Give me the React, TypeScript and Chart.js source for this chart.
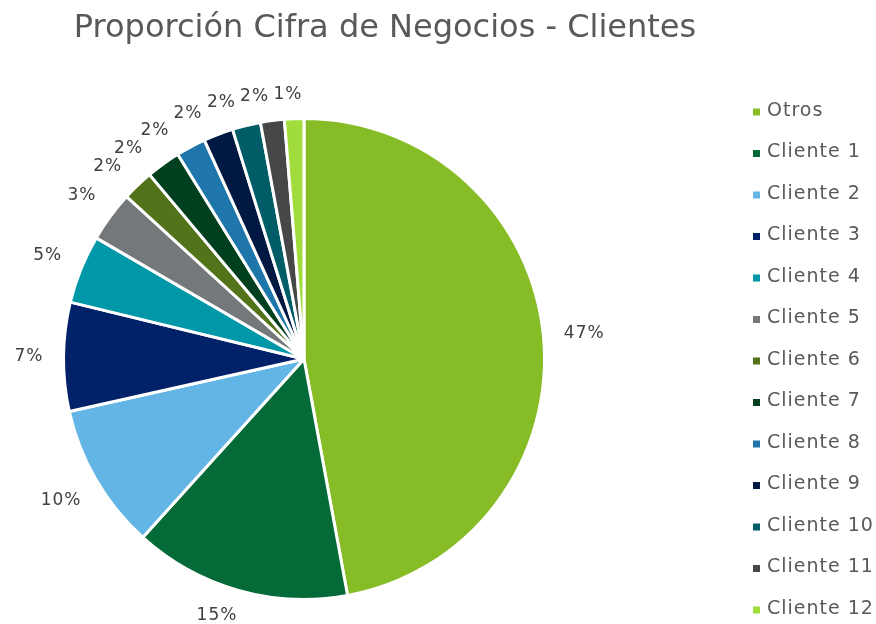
import React, { useEffect, useRef } from "react";
import { Chart, registerables } from "chart.js";

Chart.register(...registerables);

const TITLE = "Proporción Cifra de Negocios - Clientes";
const categories = [
  "Otros", "Cliente 1", "Cliente 2", "Cliente 3", "Cliente 4", "Cliente 5", "Cliente 6",
  "Cliente 7", "Cliente 8", "Cliente 9", "Cliente 10", "Cliente 11", "Cliente 12",
];
const shares = [47.1, 14.6, 9.8, 7.3, 4.6, 3.4, 2.1, 2.3, 2.0, 2.0, 1.9, 1.6, 1.3];
const colors = [
  "#86BC25", "#046A38", "#62B5E5", "#012169", "#0097A9", "#75787B", "#53731A",
  "#00401F", "#1F76AA", "#011842", "#005C66", "#464749", "#A0DC3C",
];

const FONT = "'DejaVu Sans', Verdana, sans-serif";

const decorPlugin = {
  id: "decor",
  afterDraw(chart: any) {
    const ctx = chart.ctx as CanvasRenderingContext2D;
    const meta = chart.getDatasetMeta(0);
    const total = shares.reduce((a, b) => a + b, 0);
    ctx.save();
    // title
    ctx.fillStyle = "#595959";
    ctx.font = `32px ${FONT}`;
    ctx.textAlign = "center";
    ctx.textBaseline = "middle";
    ctx.fillText(TITLE, 385, 29);

    // data labels
    ctx.font = `17px ${FONT}`;
    (ctx as any).letterSpacing = "1px";
    ctx.fillStyle = "#404040";
    const gap = 18;
    const h = 14;
    const labels = meta.data.map((arc: any, i: number) => {
      const { x, y, startAngle, endAngle, outerRadius } = arc.getProps(
        ["x", "y", "startAngle", "endAngle", "outerRadius"], true
      );
      const txt = Math.round((shares[i] / total) * 100) + "%";
      const w = ctx.measureText(txt).width - 1;
      return { x, y, r: outerRadius - 1.5, a: (startAngle + endAngle) / 2, txt, w };
    });
    const place = (l: any) => {
      const dx = Math.cos(l.a);
      const dy = Math.sin(l.a);
      const proj = Math.abs(dx) * (l.w / 2 + 4) + Math.abs(dy) * h / 2;
      const d = l.r + gap + proj;
      return { cx: l.x + dx * d, cy: l.y + dy * d };
    };
    const overlap = (p: any, lp: any, q: any, lq: any) =>
      Math.abs(p.cx - q.cx) < (lp.w + lq.w) / 2 + 5 && Math.abs(p.cy - q.cy) < h + 4;
    // keep labels inside the canvas
    labels.forEach((l: any) => {
      let n = 0;
      while (n < 400 && place(l).cy + h / 2 + 1 > chart.height) {
        l.a += Math.cos(l.a) < 0 ? 0.002 : -0.002;
        n++;
      }
    });
    labels[labels.length - 1].a -= 0.02;
    for (let i = labels.length - 2; i >= 1; i--) {
      let n = 0;
      while (n < 400 && overlap(place(labels[i]), labels[i], place(labels[i + 1]), labels[i + 1])) {
        labels[i].a -= 0.002;
        n++;
      }
    }
    labels.forEach((l: any) => {
      const p = place(l);
      ctx.fillText(l.txt, p.cx, p.cy);
    });

    // legend
    ctx.textAlign = "left";
    ctx.font = `19px ${FONT}`;
    categories.forEach((c, i) => {
      const cy = 110 + i * 41.5;
      ctx.fillStyle = colors[i];
      ctx.fillRect(753, cy - 1.5, 7, 7);
      ctx.fillStyle = "#595959";
      ctx.fillText(c, 767, cy + 1);
    });
    ctx.restore();
  },
};

export default function App() {
  const ref = useRef<HTMLCanvasElement | null>(null);
  useEffect(() => {
    document.body.style.margin = "0";
    const chart = new Chart(ref.current as HTMLCanvasElement, {
      type: "pie",
      data: {
        labels: categories,
        datasets: [
          {
            data: shares,
            backgroundColor: colors,
            borderColor: "#ffffff",
            borderWidth: 3,
            hoverOffset: 0,
          },
        ],
      },
      options: {
        responsive: false,
        animation: false,
        radius: 240.5,
        layout: { padding: { left: 30, right: 298, top: 98, bottom: 4 } },
        plugins: {
          legend: { display: false },
          title: { display: false },
          tooltip: { enabled: false },
        },
      } as any,
      plugins: [decorPlugin],
    });
    return () => chart.destroy();
  }, []);
  return (
    <div style={{ width: 876, height: 624, background: "#fff" }}>
      <canvas ref={ref} width={876} height={624} style={{ display: "block" }} />
    </div>
  );
}
